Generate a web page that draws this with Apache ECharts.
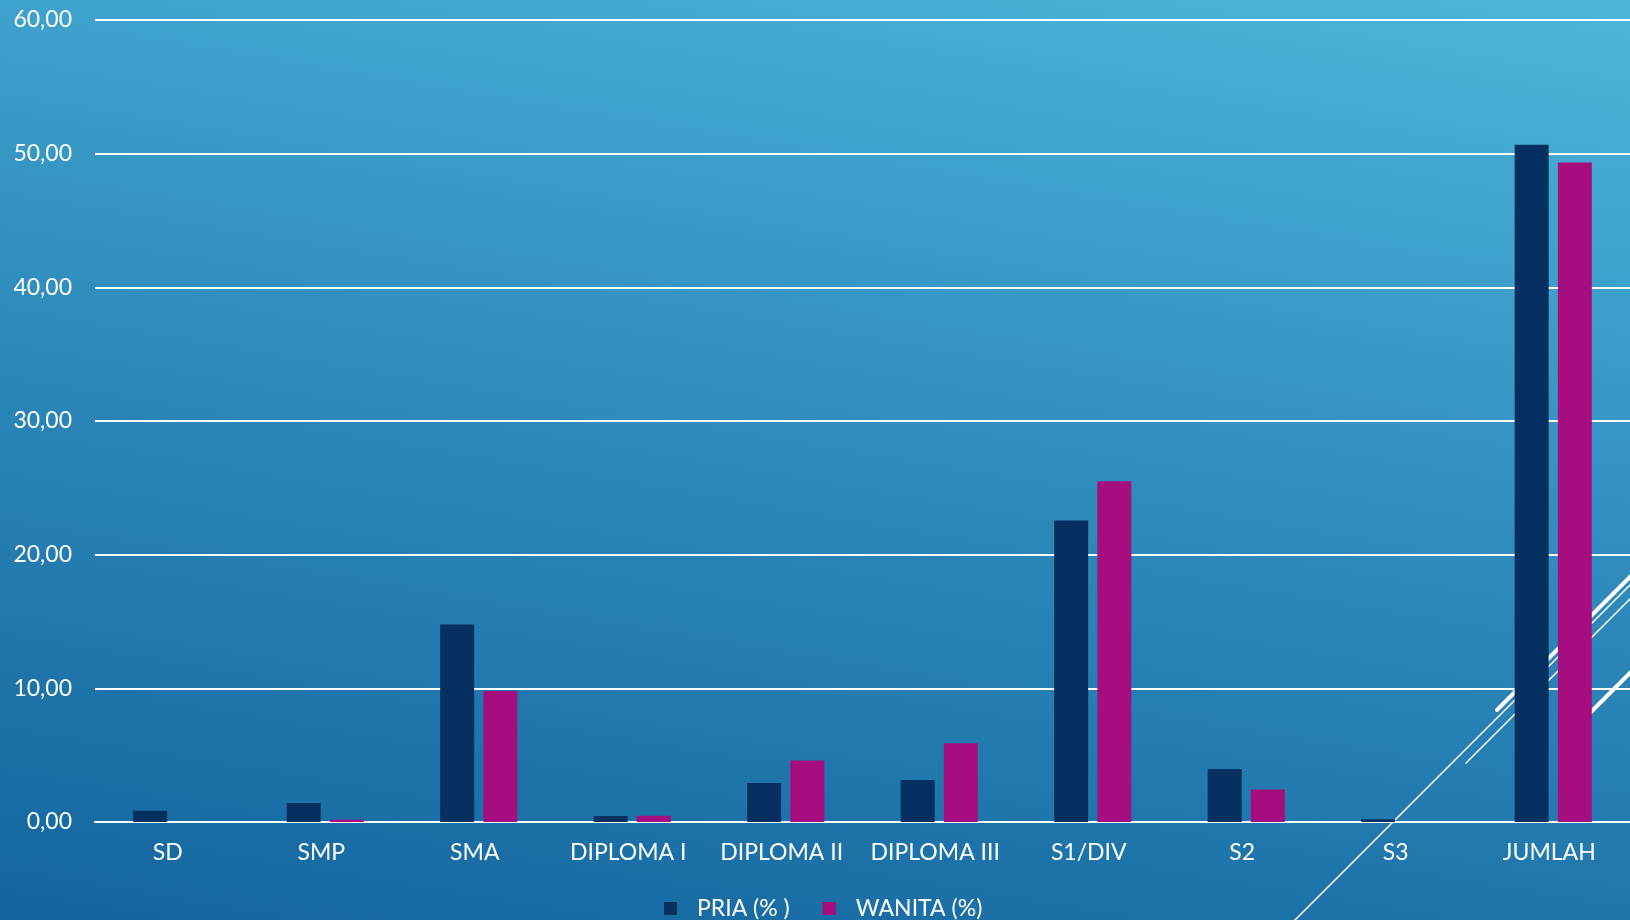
<!DOCTYPE html>
<html>
<head>
<meta charset="utf-8">
<script src="https://cdn.jsdelivr.net/npm/echarts@6/dist/echarts.min.js"></script>
<style>
html,body{margin:0;padding:0;width:1630px;height:920px;overflow:hidden;}
#chart{width:1630px;height:920px;background:linear-gradient(9.6deg,#13659e 0%,#2b86b8 45%,#4db6da 100%);}
</style>
</head>
<body>
<div id="chart"></div>
<script>
const categories = ['SD','SMP','SMA','DIPLOMA I','DIPLOMA II','DIPLOMA III','S1/DIV','S2','S3','JUMLAH'];
const pria = [0.85, 1.42, 14.77, 0.45, 2.92, 3.14, 22.55, 3.96, 0.20, 50.67];
const wanita = [0.00, 0.17, 9.80, 0.47, 4.60, 5.90, 25.50, 2.44, 0.00, 49.33];
const seriesNames = ['PRIA (% )', 'WANITA (%)'];
const yTicks = { min: 0, max: 60, interval: 10 };

const FONT = 'Lato, "Open Sans", sans-serif';
const chart = echarts.init(document.getElementById('chart'));
const deco = (x1, y1, x2, y2, w) => ({
  type: 'line', z: 1, silent: true,
  shape: { x1, y1, x2, y2 },
  style: { stroke: '#ffffff', lineWidth: w, lineCap: 'round' }
});
chart.setOption({
  animation: false,
  backgroundColor: 'transparent',
  textStyle: { fontFamily: FONT },
  grid: { left: 95, right: 0, top: 20, bottom: 98, containLabel: false },
  legend: {
    left: 659, top: 892,
    itemWidth: 13, itemHeight: 13, itemGap: 33, icon: 'rect',
    textStyle: { color: '#ffffff', fontSize: 23, fontFamily: FONT, padding: [0, 0, 0, 15] },
    data: seriesNames
  },
  xAxis: {
    type: 'category', data: categories,
    axisLine: { show: true, lineStyle: { color: '#ffffff', width: 2 } },
    axisTick: { show: false },
    axisLabel: { color: '#ffffff', fontSize: 23, margin: 19, fontFamily: FONT, interval: 0,
      padding: [0, 8, 0, 0] },
    splitLine: { show: false }
  },
  yAxis: {
    type: 'value', min: yTicks.min, max: yTicks.max, interval: yTicks.interval,
    axisLine: { show: false }, axisTick: { show: false },
    axisLabel: { color: '#ffffff', fontSize: 23, margin: 23, fontFamily: FONT,
      formatter: v => v.toFixed(2).replace('.', ',') },
    splitLine: { lineStyle: { color: '#ffffff', width: 2 } }
  },
  graphic: [
    deco(1294, 921, 1631, 584, 1.5),
    deco(1466, 763, 1631, 598, 1.5),
    deco(1497, 710, 1631, 576, 4),
    deco(1591, 712, 1631, 672, 4)
  ],
  series: [
    { name: seriesNames[0], type: 'bar', data: pria, barWidth: 34, barGap: '27%', z: 3,
      itemStyle: { color: '#063061' } },
    { name: seriesNames[1], type: 'bar', data: wanita, barWidth: 34, z: 3,
      itemStyle: { color: '#a60e80' } }
  ]
});
</script>
</body>
</html>
